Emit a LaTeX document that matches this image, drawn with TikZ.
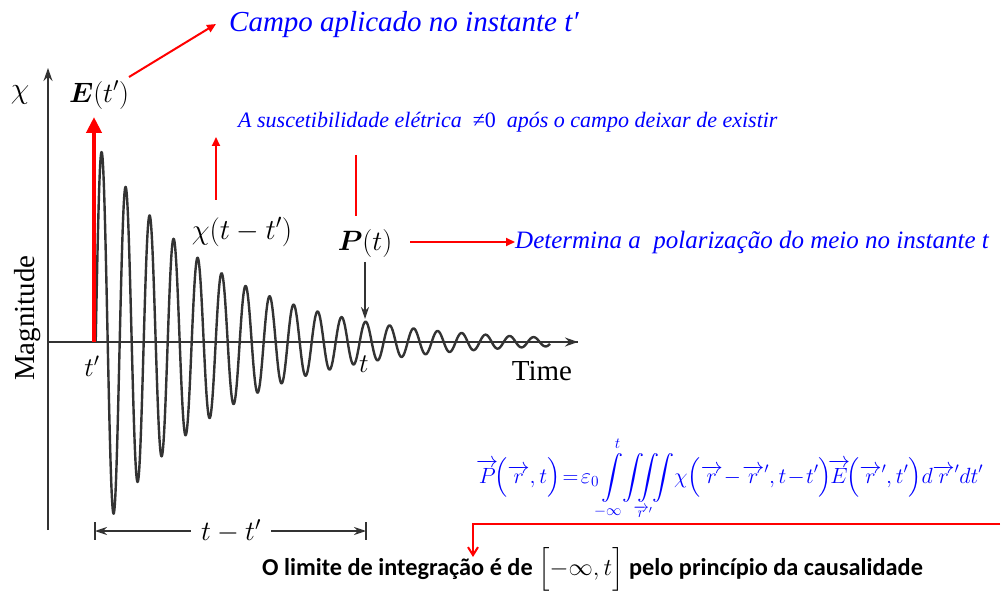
\RequirePackage{fix-cm}
\documentclass[tikz,border=0pt]{standalone}
\usepackage{amsmath,amssymb,bm}
\usepackage{fontspec}
\setmainfont{Liberation Serif}
\newfontfamily\carl{Carlito}
\usetikzlibrary{arrows.meta}
\definecolor{ink}{HTML}{333333}
\definecolor{rd}{HTML}{FF0000}
\definecolor{bl}{HTML}{0000FF}
\newcommand{\vr}{\overrightarrow{r}}
\begin{document}
\begin{tikzpicture}[x=1pt,y=-1pt,
  axis/.style={draw=ink, line width=1.4pt, -{Stealth[length=13pt,width=9pt]}},
  wave/.style={draw=ink, line width=2.4pt, line join=round},
  redarr/.style={draw=rd, line width=2pt, -{Triangle[length=9pt,width=8pt]}},
  blk/.style={inner sep=0pt, text=black},
  blu/.style={inner sep=0pt, text=bl, font=\itshape\fontsize{#1}{#1}\selectfont},
  fs/.style={font=\fontsize{#1}{#1}\selectfont}
]
\useasboundingbox (0,0) rectangle (1001,593);
% axes
\coordinate (O) at (48,342);
\coordinate (Ybot) at (48,530);
\coordinate (Ytop) at (48,68);
\coordinate (Xend) at (578,342);
\draw[axis] (Ybot) -- (Ytop);
\draw[draw=ink, line width=1.4pt] (O) -- (Xend);
% waveform
\draw[wave] plot[domain=95.7:550, samples=1200] (\x, {342 - 190*exp(-(\x-101.7)/118)*sin(15*(\x-95.7))});
\draw[axis] (540,342) -- (Xend);
% axis labels
\node[blk, fs=30] (chiax) at (20,95) {$\chi$};
\node[blk, fs=29, rotate=90] (mag) at (28,318) {Magnitude};
\node[blk, fs=29] (time) at (542,371) {Time};
\node[blk, fs=27] (tpl) at (92,366) {$t'$};
\node[blk, fs=27] (tl) at (364,364) {$t$};
% E(t') impulse
\coordinate (tp) at (94,342);
\coordinate (Etip) at (94,117);
\draw[draw=rd, line width=4.5pt, -{Triangle[length=16pt,width=15pt]}] (tp) -- (Etip);
\node[blk, fs=28] (Elbl) at (99,95) {$\bm{E}(t')$};
% chi label
\node[blk, fs=29] (chil) at (242,232) {$\chi(t-t')$};
% P label
\node[blk, fs=28] (Pl) at (365,244) {$\bm{P}(t)$};
\coordinate (Pt) at (365,319);
\draw[draw=ink, line width=1.4pt, -{Stealth[length=12pt,width=8pt]}] (365,262) -- (Pt);
% blue texts
\node[blu=29, anchor=base west] (campo) at (229,32) {Campo aplicado no instante t′};
\coordinate (cA) at (129,77);
\coordinate (cB) at (216,24);
\draw[redarr] (cA) -- (cB);
\node[blu=22, anchor=base west] (sus) at (238,128) {A suscetibilidade elétrica \ {\upshape≠0} \ após o campo deixar de existir};
\coordinate (sA) at (216,200);
\coordinate (sB) at (216,137);
\draw[redarr] (sA) -- (sB);
\coordinate (rA) at (356,155);
\coordinate (rB) at (356,216);
\draw[draw=rd, line width=2.4pt] (rA) -- (rB);
\node[blu=25, anchor=west] (det) at (515,242) {Determina a \ polarização do meio no instante t};
\coordinate (dA) at (410,242);
\draw[redarr] (dA) -- (det.west);
% equation
\node[inner sep=0pt, text=bl, fs=22, anchor=base west] (eq) at (476,483) {$\displaystyle \overrightarrow{P}\!\Bigl(\vr,t\Bigr)\!=\!\varepsilon_0\!\int\limits_{-\infty}^{t}\!\!\iiint\limits_{\vr'}\!\chi\Bigl(\vr\!-\!\vr',t\!-\!t'\Bigr)\!\overrightarrow{E}\!\Bigl(\vr',t'\Bigr)d\vr'dt'$};
% causality
\coordinate (L1) at (1000,524);
\coordinate (L2) at (473,557);
\draw[draw=rd, line width=2pt, -{Straight Barb[length=8pt,width=10pt]}] (L1) -| (L2);
\node[blk, anchor=base west, font=\carl\bfseries\fontsize{24.3}{24.3}\selectfont] (caus) at (262,575) {O limite de integração é de $\Bigl[-\infty,t\Bigr]$ pelo princípio da causalidade};
% dimension t - t'
\coordinate (d1) at (95,531);
\coordinate (d2) at (366,531);
\draw[draw=ink, line width=1.4pt] (95,522) -- (95,540) (366,522) -- (366,540);
\node[blk, fs=28] (dim) at (231,531) {$t-t'$};
\draw[draw=ink, line width=1.4pt, -{Stealth[length=12pt,width=8pt]}] ([xshift=-10pt]dim.west) -- (d1);
\draw[draw=ink, line width=1.4pt, -{Stealth[length=12pt,width=8pt]}] ([xshift=10pt]dim.east) -- (d2);
\end{tikzpicture}
\end{document}
